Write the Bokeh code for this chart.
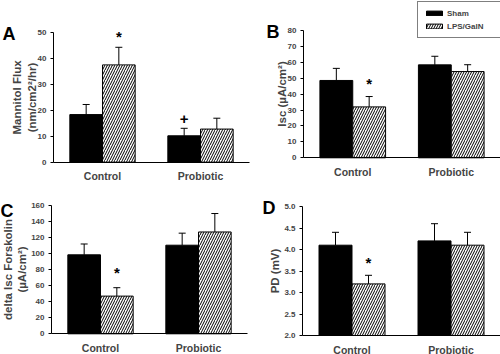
from bokeh.plotting import figure
from bokeh.layouts import row, column
from bokeh.models import (FixedTicker, Label, Whisker, TeeHead, ColumnDataSource,
                          Legend, LegendItem, Range1d, NumeralTickFormatter)
from bokeh.embed import file_html
from bokeh.resources import INLINE

groups = ["Control", "Probiotic"]
series = ["Sham", "LPS/GalN"]

mannitol_sham = [18.4, 10.2]
mannitol_sham_err = [3.9, 2.9]
mannitol_lps = [37.6, 12.8]
mannitol_lps_err = [6.8, 4.2]

isc_sham = [48.6, 58.4]
isc_sham_err = [7.6, 5.4]
isc_lps = [32.0, 54.2]
isc_lps_err = [6.5, 4.3]

forsk_sham = [98.5, 110.5]
forsk_sham_err = [13.5, 15.0]
forsk_lps = [47.0, 127.0]
forsk_lps_err = [10.5, 23.0]

pd_sham = [4.1, 4.2]
pd_sham_err = [0.3, 0.4]
pd_lps = [3.2, 4.1]
pd_lps_err = [0.2, 0.3]

# significance marks: (symbol, group index, series index, y value)
marks_a = [("*", 0, 1, 48.5), ("+", 1, 0, 16.5)]
marks_b = [("*", 0, 1, 46.5)]
marks_c = [("*", 0, 1, 76.0)]
marks_d = [("*", 0, 1, 3.70)]

ticks_a = [0, 10, 20, 30, 40, 50]
ticks_b = [0, 10, 20, 30, 40, 50, 60, 70, 80]
ticks_c = [0, 20, 40, 60, 80, 100, 120, 140, 160]
ticks_d = [2.0, 2.5, 3.0, 3.5, 4.0, 4.5, 5.0]

FONT = "Liberation Sans"
N_SLOTS = 6


def xpos(gi, si):
    return 1.5 + 3 * gi + (si - 0.5)


def make_panel(letter, letter_xy, ylabel, sham, sham_err, lps, lps_err, ticks, marks,
               geom, fmt="0", label_standoff=0, legend_xy=None):
    W, H, axis_x, right_px, y0_px, ytop_px = geom
    y0, y1 = ticks[0], ticks[-1]
    ux = (right_px - axis_x) / N_SLOTS
    uy = (y0_px - ytop_px) / (y1 - y0)
    xr = Range1d(-axis_x / ux, (W - axis_x) / ux)
    yr = Range1d(y0 - (H - y0_px) / uy, y1 + ytop_px / uy)
    p = figure(width=W, height=H, output_backend="svg", toolbar_location=None,
               x_range=xr, y_range=yr, min_border=0,
               min_border_left=0, min_border_right=0, min_border_top=0, min_border_bottom=0)
    p.outline_line_color = None
    p.xgrid.visible = False
    p.ygrid.visible = False
    p.background_fill_color = "white"
    p.border_fill_color = "white"

    xs_s = [xpos(i, 0) for i in range(len(groups))]
    xs_l = [xpos(i, 1) for i in range(len(groups))]
    r1 = p.vbar(x=xs_s, top=sham, bottom=y0, width=1, fill_color="black", line_color="black",
                line_width=1)
    r2 = p.vbar(x=xs_l, top=lps, bottom=y0, width=1, fill_color="white", line_color="black",
                line_width=1, hatch_pattern="/", hatch_color="black", hatch_scale=5,
                hatch_weight=1)

    for xs, vals, errs in ((xs_s, sham, sham_err), (xs_l, lps, lps_err)):
        src = ColumnDataSource(dict(x=xs, lower=vals,
                                    upper=[v + e for v, e in zip(vals, errs)]))
        w = Whisker(source=src, base="x", lower="lower", upper="upper", dimension="height",
                    line_color="black", line_width=1,
                    upper_head=TeeHead(size=7, line_color="black", line_width=1),
                    lower_head=None)
        p.add_layout(w)

    for sym, gi, si, yv in marks:
        p.add_layout(Label(x=xpos(gi, si), y=yv, text=sym, text_align="center",
                           text_baseline="middle", text_font=FONT, text_font_style="bold",
                           text_font_size="15px", text_color="black"))

    p.add_layout(Label(x=letter_xy[0], y=letter_xy[1], x_units="screen", y_units="screen",
                       text=letter, text_font=FONT, text_font_style="bold",
                       text_font_size="18px", text_baseline="alphabetic", text_color="black"))

    ya = p.yaxis[0]
    ya.fixed_location = 0
    ya.bounds = (y0, y1)
    ya.ticker = FixedTicker(ticks=ticks)
    ya.formatter = NumeralTickFormatter(format=fmt)
    ya.axis_label = ylabel
    ya.axis_label_text_font = FONT
    ya.axis_label_text_font_style = "bold"
    ya.axis_label_text_font_size = "11.5px"
    ya.axis_label_standoff = label_standoff
    ya.major_label_text_font = FONT
    ya.major_label_text_font_style = "bold"
    ya.major_label_text_font_size = "8px"
    ya.major_label_standoff = 4
    ya.major_tick_in = 0
    ya.major_tick_out = 3
    ya.minor_tick_line_color = None
    ya.axis_line_color = "black"

    xa = p.xaxis[0]
    xa.fixed_location = y0
    xa.bounds = (0, N_SLOTS)
    tick_x = [xpos(i, 0) + 0.5 for i in range(len(groups))]
    xa.ticker = FixedTicker(ticks=tick_x)
    xa.major_label_overrides = {t: g for t, g in zip(tick_x, groups)}
    xa.major_label_text_font = FONT
    xa.major_label_text_font_style = "bold"
    xa.major_label_text_font_size = "10.5px"
    xa.major_label_standoff = 8
    xa.major_tick_in = 0
    xa.major_tick_out = 0
    xa.major_tick_line_color = None
    xa.minor_tick_line_color = None
    xa.axis_line_color = "black"

    if legend_xy is not None:
        lg = Legend(items=[LegendItem(label=series[0], renderers=[r1]),
                           LegendItem(label=series[1], renderers=[r2])],
                    location=legend_xy, orientation="vertical",
                    glyph_width=20, glyph_height=6, label_height=10, label_width=47,
                    label_standoff=3, spacing=3, padding=6, margin=0,
                    label_text_font=FONT, label_text_font_style="bold",
                    label_text_font_size="8px", border_line_color="black",
                    border_line_width=1, background_fill_color="white",
                    background_fill_alpha=1.0)
        p.add_layout(lg)
    return p


# geometry: width, height, y-axis x px, x-axis right end px, y-start px, y-end px
pA = make_panel("A", (2, 152), "Mannitol Flux\n(nm/cm2\u00b2/hr)",
                mannitol_sham, mannitol_sham_err, mannitol_lps, mannitol_lps_err,
                ticks_a, marks_a, (250, 185, 53, 249, 161.7, 32.3), label_standoff=-3)
pB = make_panel("B", (16, 154), "Isc (\u00b5A/cm\u00b2)",
                isc_sham, isc_sham_err, isc_lps, isc_lps_err,
                ticks_b, marks_b, (250, 185, 53, 250, 157.3, 30.0), label_standoff=-3,
                legend_xy=(167, 147))
pC = make_panel("C", (0, 144), "delta Isc Forskolin\n(\u00b5A/cm\u00b2)",
                forsk_sham, forsk_sham_err, forsk_lps, forsk_lps_err,
                ticks_c, marks_c, (250, 169, 51, 247, 148.3, 20.0))
pD = make_panel("D", (12, 147), "PD (mV)",
                pd_sham, pd_sham_err, pd_lps, pd_lps_err,
                ticks_d, marks_d, (250, 169, 52, 250, 150.0, 21.0), fmt="0.0")

layout = row(column(pA, pC), column(pB, pD))
open("out.html", "w").write(file_html(layout, INLINE))
